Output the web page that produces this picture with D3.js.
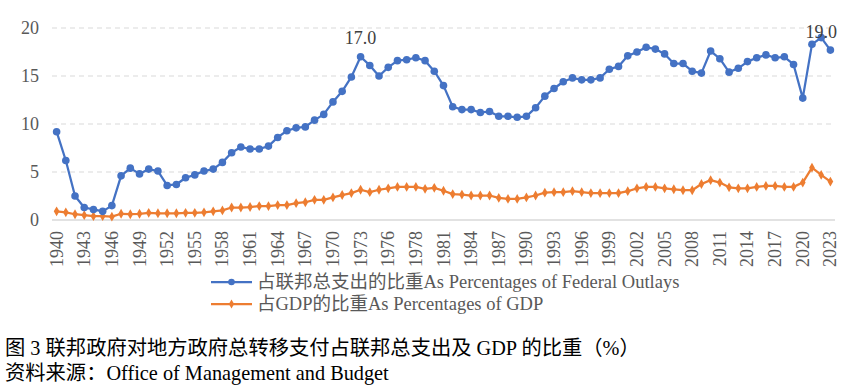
<!DOCTYPE html>
<html>
<head>
<meta charset="utf-8">
<script src="https://cdn.jsdelivr.net/npm/d3@7"></script>
<style>
  html, body { margin: 0; padding: 0; background: #fff; }
  svg { display: block; }
</style>
</head>
<body>
<svg id="chart" width="864" height="391"></svg>
<script>
const categories = [
  "1940","1941","1942","1943","1944","1945","1946","1947","1948","1949",
  "1950","1951","1952","1953","1954","1955","1956","1957","1958","1959",
  "1960","1961","1962","1963","1964","1965","1966","1967","1968","1969",
  "1970","1971","1972","1973","1974","1975","1976","TQ","1977","1978","1979",
  "1980","1981","1982","1983","1984","1985","1986","1987","1988","1989",
  "1990","1991","1992","1993","1994","1995","1996","1997","1998","1999",
  "2000","2001","2002","2003","2004","2005","2006","2007","2008","2009",
  "2010","2011","2012","2013","2014","2015","2016","2017","2018","2019",
  "2020","2021","2022","2023"
];
const outlaysShare = [
  9.2, 6.2, 2.5, 1.3, 1.1, 0.9, 1.5, 4.6, 5.4, 4.8,
  5.3, 5.1, 3.6, 3.7, 4.4, 4.7, 5.1, 5.3, 6.0, 7.0,
  7.6, 7.4, 7.4, 7.7, 8.6, 9.3, 9.6, 9.7, 10.4, 11.0,
  12.3, 13.4, 14.9, 17.0, 16.1, 15.0, 15.9, 16.6, 16.7, 16.9, 16.6,
  15.5, 14.0, 11.8, 11.5, 11.5, 11.2, 11.3, 10.8, 10.8, 10.7,
  10.8, 11.7, 12.9, 13.7, 14.4, 14.8, 14.6, 14.6, 14.8, 15.7,
  16.0, 17.1, 17.5, 18.0, 17.8, 17.3, 16.3, 16.3, 15.5, 15.3,
  17.6, 16.8, 15.4, 15.8, 16.5, 16.9, 17.2, 16.9, 17.0, 16.2,
  12.7, 18.3, 19.0, 17.7
];
const gdpShare = [
  0.9, 0.8, 0.6, 0.5, 0.4, 0.4, 0.35, 0.65, 0.6, 0.65,
  0.75, 0.7, 0.7, 0.7, 0.75, 0.75, 0.8, 0.9, 1.0, 1.3,
  1.3, 1.35, 1.45, 1.45, 1.55, 1.55, 1.75, 1.85, 2.1, 2.1,
  2.35, 2.6, 2.8, 3.15, 2.9, 3.15, 3.3, 3.45, 3.45, 3.45, 3.25,
  3.35, 3.05, 2.7, 2.65, 2.55, 2.55, 2.55, 2.3, 2.2, 2.2,
  2.35, 2.55, 2.85, 2.9, 2.9, 3.0, 2.9, 2.8, 2.8, 2.8,
  2.8, 3.0, 3.3, 3.45, 3.45, 3.3, 3.2, 3.1, 3.1, 3.75,
  4.15, 3.9, 3.4, 3.3, 3.3, 3.45, 3.55, 3.55, 3.45, 3.45,
  3.9, 5.45, 4.7, 4.0
];
const yTicks = [0, 5, 10, 15, 20];
const seriesNames = ["占联邦总支出的比重As Percentages of Federal Outlays", "占GDP的比重As Percentages of GDP"];
const dataLabels = [{cat: "1973", text: "17.0"}, {cat: "2022", text: "19.0"}];
const captionLines = ["图 3 联邦政府对地方政府总转移支付占联邦总支出及 GDP 的比重（%）", "资料来源：Office of Management and Budget"];

const FONT = "'Liberation Serif', 'Noto Sans CJK SC', serif";
const NUMFONT = "'Liberation Serif', serif";
const svg = d3.select("#chart").attr("font-family", FONT);
const x = d3.scaleBand().domain(categories).range([52, 835]);
const cx = c => x(c) + x.bandwidth() / 2;
const y = d3.scaleLinear().domain([0, 20]).range([220, 28]);

// gridlines
svg.append("g").selectAll("line").data(yTicks.filter(t => t > 0)).join("line")
  .attr("x1", 52).attr("x2", 835)
  .attr("y1", d => y(d)).attr("y2", d => y(d))
  .attr("stroke", "#D9D9D9").attr("stroke-width", 1.2).attr("stroke-dasharray", "5,4");

// x axis line
svg.append("line").attr("x1", 52).attr("x2", 835).attr("y1", y(0)).attr("y2", y(0))
  .attr("stroke", "#D9D9D9").attr("stroke-width", 1.5);

// y tick labels
svg.append("g").selectAll("text").data(yTicks).join("text")
  .attr("x", 39).attr("y", d => y(d) + 6)
  .style("font-family", NUMFONT)
  .attr("text-anchor", "end").attr("fill", "#595959").attr("font-size", 18)
  .text(d => d);

// x tick labels
const xTickCats = categories.filter((c, i) => i % 3 === 0);
svg.append("g").selectAll("text").data(xTickCats).join("text")
  .attr("transform", d => `translate(${cx(d) + 6},${231}) rotate(-90)`)
  .style("font-family", NUMFONT)
  .attr("text-anchor", "end").attr("fill", "#595959").attr("font-size", 18)
  .text(d => d);

const colors = ["#4472C4", "#ED7D31"];
const allSeries = [outlaysShare, gdpShare];
const line = d3.line().x((d, i) => cx(categories[i])).y(d => y(d));

[1, 0].forEach(s => {
  const g = svg.append("g");
  g.append("path").datum(allSeries[s]).attr("d", line)
    .attr("fill", "none").attr("stroke", colors[s]).attr("stroke-width", 2.25)
    .attr("stroke-linejoin", "round");
  if (s === 0) {
    g.selectAll("circle").data(allSeries[s]).join("circle")
      .attr("cx", (d, i) => cx(categories[i])).attr("cy", d => y(d))
      .attr("r", 3.8).attr("fill", colors[s]);
  } else {
    g.selectAll("path.m").data(allSeries[s]).join("path").attr("class", "m")
      .attr("d", d3.symbol(d3.symbolDiamond, 28))
      .attr("transform", (d, i) => `translate(${cx(categories[i])},${y(d)})`)
      .attr("fill", colors[s]);
  }
});

// data labels (above the point, kept inside the plot's top margin)
svg.append("g").selectAll("text").data(dataLabels).join("text")
  .attr("x", d => cx(d.cat))
  .attr("y", d => Math.max(y(outlaysShare[categories.indexOf(d.cat)]) - 12.5, 38))
  .style("font-family", NUMFONT)
  .attr("text-anchor", "middle").attr("fill", "#404040").attr("font-size", 18)
  .text(d => d.text);

// legend
const legend = svg.append("g");
seriesNames.forEach((name, i) => {
  const ly = 282 + i * 22;
  legend.append("line").attr("x1", 211).attr("x2", 252).attr("y1", ly).attr("y2", ly)
    .attr("stroke", colors[i]).attr("stroke-width", 2.25);
  if (i === 0) legend.append("circle").attr("cx", 231.5).attr("cy", ly).attr("r", 3.3).attr("fill", colors[i]);
  else legend.append("path").attr("d", d3.symbol(d3.symbolDiamond, 24)).attr("transform", `translate(231.5,${ly})`).attr("fill", colors[i]);
  legend.append("text").attr("x", 257).attr("y", ly + 6).style("font-family", FONT)
    .attr("fill", "#595959").attr("font-size", 18.5).text(name);
});

// caption
svg.append("g").selectAll("text").data(captionLines).join("text")
  .attr("x", 5).attr("y", (d, i) => 355 + i * 25)
  .style("font-family", FONT)
  .attr("fill", "#000").attr("font-size", 20.3).text(d => d);
</script>
</body>
</html>
